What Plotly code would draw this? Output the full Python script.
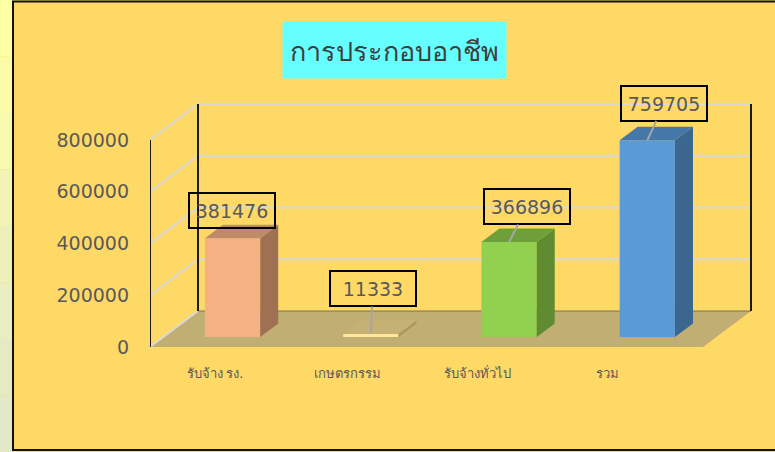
import plotly.graph_objects as go

# ---------------- data ----------------
categories = ["รับจ้าง รง.", "เกษตรกรรม", "รับจ้างทั่วไป", "รวม"]
values = [381476, 11333, 366896, 759705]
y_ticks = [0, 200000, 400000, 600000, 800000]
title_text = "การประกอบอาชีพ"

# ---------------- styling ----------------
front_colors = ["#F4B183", "#FFE699", "#92D050", "#5B9BD5"]
side_colors = ["#9E7152", "#A8965E", "#5F8B31", "#3A6690"]
top_colors = ["#BE8A68", "#C5B173", "#6E9F3B", "#4578A8"]
label_offsets = [(-1, -28), (2, -45), (18, -35), (17, -37)]
label_arrow = [False, True, True, True]
cat_xshift = [-4, -10, -18, -26]

W, H = 775, 452
L = 150                      # left margin = front-plane x start (px)
CW = 138.25                  # px per category
S = 800000 / 207.0           # value units per px
Y0PX = 347                   # px of value 0 on the front plane
DX = 48 / CW                 # full depth offset (x units)
DY = 36 * S                  # full depth offset (value units)
D0, D1 = 0.28, 0.655         # bar depth range (fraction of full depth)
BW = 0.4                     # bar width (category units)
n = len(categories)

x_range = [-0.5, -0.5 + (W - L) / CW]
y_range = [(Y0PX - H) * S, Y0PX * S]


def px2paper_x(px):
    return (px - L) / (W - L)


def px2paper_y(py):
    return (H - py) / H


fig = go.Figure()

# ---------- walls / floor (shapes below traces) ----------
shapes = []
xl, xr = -0.5, n - 0.5
floor_path = (f"M {xl},0 L {xr},0 L {xr+DX},{DY} L {xl+DX},{DY} Z")
shapes.append(dict(type="path", path=floor_path, xref="x", yref="y",
                   fillcolor="#C1AE72", line=dict(width=0), layer="below"))
for t in y_ticks:
    shapes.append(dict(type="line", xref="x", yref="y", x0=xl, y0=t,
                       x1=xl + DX, y1=t + DY,
                       line=dict(color="#D9D9D9", width=2), layer="below"))
    if t == 0:
        shapes.append(dict(type="line", xref="x", yref="y", x0=xl + DX, y0=DY,
                           x1=xr + DX, y1=DY,
                           line=dict(color="#7F7350", width=1), layer="below"))
    else:
        shapes.append(dict(type="line", xref="x", yref="y", x0=xl + DX, y0=t + DY,
                           x1=xr + DX, y1=t + DY,
                           line=dict(color="#D9D9D9", width=2), layer="below"))
top_tick = max(y_ticks)
for xx in (xl + DX, xr + DX):
    shapes.append(dict(type="line", xref="x", yref="y", x0=xx, y0=DY,
                       x1=xx, y1=top_tick + DY,
                       line=dict(color="#1A1A1A", width=2), layer="below"))
shapes.append(dict(type="line", xref="x", yref="y", x0=xl, y0=0, x1=xl,
                   y1=top_tick, line=dict(color="#1A1A1A", width=2),
                   layer="below"))

# page strip at left (gradient approximation) and outer border
strip_cols = ["#FFFFA3", "#FCFCA8", "#F8F8AE", "#F3F4B4", "#EEF0BA",
              "#EAEDBF", "#E6EAC3", "#E3E8C6"]
nb = len(strip_cols)
for k, c in enumerate(strip_cols):
    shapes.append(dict(type="rect", xref="paper", yref="paper",
                       x0=px2paper_x(0), x1=px2paper_x(13),
                       y0=px2paper_y(H * (k + 1) / nb), y1=px2paper_y(H * k / nb),
                       fillcolor=c, line=dict(width=0), layer="below"))
shapes.append(dict(type="rect", xref="paper", yref="paper",
                   x0=px2paper_x(13), x1=px2paper_x(W + 5),
                   y0=px2paper_y(450), y1=px2paper_y(1.5),
                   line=dict(color="#111111", width=2), fillcolor="rgba(0,0,0,0)"))

# ---------- bars ----------
bx = [i + D0 * DX for i in range(n)]
fig.add_trace(go.Bar(x=bx, y=values, base=[D0 * DY] * n, width=BW,
                     marker=dict(color=front_colors, line=dict(width=0)),
                     hoverinfo="skip"))

dd = D1 - D0
for i, v in enumerate(values):
    x_l = bx[i] - BW / 2
    x_r = bx[i] + BW / 2
    b = D0 * DY
    tp = b + v
    ox, oy = dd * DX, dd * DY
    fig.add_trace(go.Scatter(
        x=[x_r, x_r, x_r + ox, x_r + ox, x_r],
        y=[b, tp, tp + oy, b + oy, b],
        mode="lines", fill="toself", fillcolor=side_colors[i],
        line=dict(width=0, color=side_colors[i]), hoverinfo="skip"))
    fig.add_trace(go.Scatter(
        x=[x_l, x_r, x_r + ox, x_l + ox, x_l],
        y=[tp, tp, tp + oy, tp + oy, tp],
        mode="lines", fill="toself", fillcolor=top_colors[i],
        line=dict(width=0, color=top_colors[i]), hoverinfo="skip"))

# ---------- annotations ----------
annotations = []
for i, v in enumerate(values):
    ax, ay = label_offsets[i]
    a = dict(x=bx[i], y=D0 * DY + v, xref="x", yref="y", text=str(v),
             font=dict(family="DejaVu Sans", size=19, color="#595959"),
             bordercolor="#000000", borderwidth=2, borderpad=1,
             width=82, height=31, bgcolor="rgba(0,0,0,0)")
    if label_arrow[i]:
        a.update(showarrow=True, arrowhead=0, arrowwidth=2,
                 arrowcolor="#A6A6A6", ax=ax, ay=ay, standoff=0)
    else:
        a.update(showarrow=False, xshift=ax, yshift=-ay)
    annotations.append(a)

for i, c in enumerate(categories):
    annotations.append(dict(x=i, y=0, xref="x", yref="y", text=c,
                            showarrow=False, yshift=-26, xshift=cat_xshift[i],
                            font=dict(family="Noto Sans, DejaVu Sans", size=13,
                                      color="#595959")))

annotations.append(dict(x=px2paper_x(394.5), y=px2paper_y(50), xref="paper",
                        yref="paper", xanchor="center", yanchor="middle",
                        text=title_text, showarrow=False,
                        bgcolor="#66FFFF", width=219, height=52, borderpad=2,
                        font=dict(family="Noto Sans, DejaVu Sans", size=27,
                                  color="#404040")))

fig.update_layout(
    template="none",
    width=W, height=H, autosize=False,
    margin=dict(l=L, r=0, t=0, b=0, pad=0),
    paper_bgcolor="#FFD966", plot_bgcolor="rgba(0,0,0,0)",
    showlegend=False, barmode="overlay",
    shapes=shapes, annotations=annotations,
    xaxis=dict(range=x_range, visible=False, fixedrange=True),
    yaxis=dict(range=y_range, tickvals=y_ticks,
               ticktext=[str(t) for t in y_ticks], fixedrange=True,
               showgrid=False, zeroline=False, showline=False, ticks="",
               ticklabelstandoff=20, automargin=False,
               tickfont=dict(family="DejaVu Sans", size=19, color="#595959")),
)

fig.write_html("out.html", config={"displayModeBar": False},
               post_script="document.body.style.margin='0';"
                           "document.body.style.overflow='hidden';")
